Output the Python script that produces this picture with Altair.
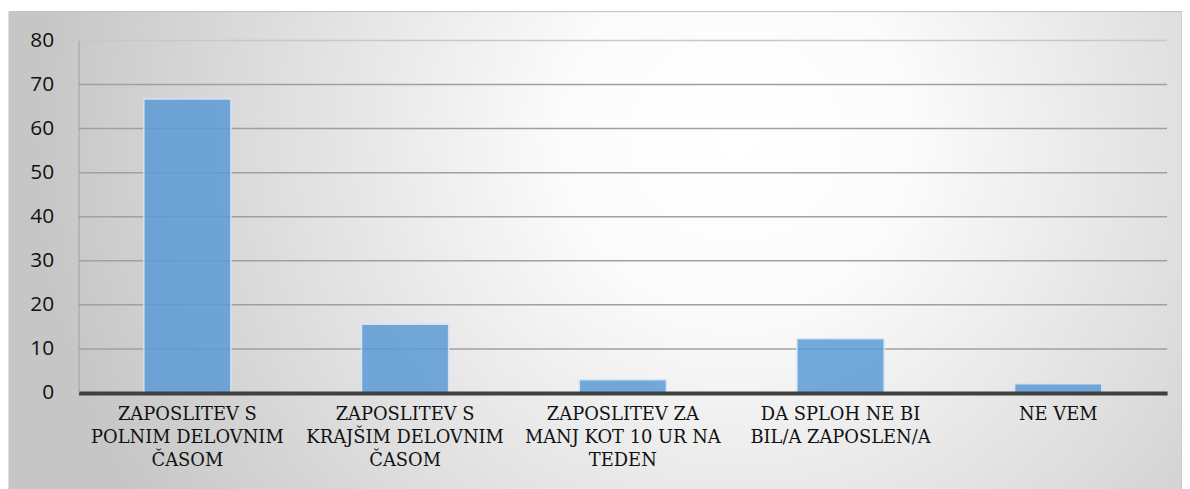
import altair as alt
import pandas as pd

categories = [
    "ZAPOSLITEV S\nPOLNIM DELOVNIM\nČASOM",
    "ZAPOSLITEV S\nKRAJŠIM DELOVNIM\nČASOM",
    "ZAPOSLITEV ZA\nMANJ KOT 10 UR NA\nTEDEN",
    "DA SPLOH NE BI\nBIL/A ZAPOSLEN/A",
    "NE VEM",
]
values = [66.7, 15.6, 3.0, 12.3, 2.1]
y_ticks = [0, 10, 20, 30, 40, 50, 60, 70, 80]
grid_values = [10, 20, 30, 40, 50, 60, 70]

W, H = 1096, 355
SERIF = "DejaVu Serif"
SANS = "Open Sans"

df = pd.DataFrame({"cat": categories, "val": values})
grid_df = pd.DataFrame({"val": grid_values})
top_df = pd.DataFrame({"val": [80]})

bg = alt.Chart(pd.DataFrame({"a": [0]})).mark_rect(
    fill=alt.RadialGradient(
        gradient="radial",
        x1=0.62, y1=0.40, r1=0,
        x2=0.62, y2=0.40, r2=0.60,
        stops=[
            alt.GradientStop(offset=0, color="#ffffff"),
            alt.GradientStop(offset=0.25, color="#fbfbfb"),
            alt.GradientStop(offset=1, color="#c6c6c6"),
        ],
    ),
    stroke="#c0c0c0",
    strokeWidth=1,
).encode(
    x=alt.value(-70), x2=alt.value(1111),
    y=alt.value(-29), y2=alt.value(460),
)

yscale = alt.Scale(domain=[0, 80], nice=False)
yaxis = alt.Axis(
    title=None,
    values=y_ticks,
    grid=False,
    ticks=False,
    labelFont=SANS,
    labelFontSize=21,
    labelColor="#111111",
    labelPadding=25,
    domainColor="#a0a0a0",
    domainWidth=1,
    zindex=1,
)

grid = alt.Chart(grid_df).mark_rule(color="#a0a0a0", strokeWidth=1.5).encode(
    y=alt.Y("val:Q", scale=yscale, axis=yaxis),
    x=alt.value(0), x2=alt.value(W),
)
top_grid = alt.Chart(top_df).mark_rule(color="#c8c8c8", strokeWidth=1.5).encode(
    y=alt.Y("val:Q", scale=yscale, axis=yaxis),
    x=alt.value(0), x2=alt.value(W),
)

bars = alt.Chart(df).mark_bar(
    color="#5b9bd5",
    fillOpacity=0.85,
    stroke="#d6e6f5",
    strokeWidth=1.5,
    strokeOpacity=0.9,
).encode(
    x=alt.X(
        "cat:N",
        scale=alt.Scale(domain=categories, paddingInner=0.6, paddingOuter=0.3),
        axis=alt.Axis(
            title=None,
            labelAngle=0,
            labelExpr="split(datum.label, '\\n')",
            labelFont=SERIF,
            labelFontSize=18,
            labelColor="#111111",
            labelLineHeight=23,
            labelPadding=13,
            labelBaseline="top",
            ticks=False,
            domainColor="#404040",
            domainWidth=4,
            zindex=1,
            labelLimit=300,
        ),
    ),
    y=alt.Y("val:Q", scale=yscale, axis=yaxis),
)

chart = alt.layer(bg, grid, top_grid, bars).properties(
    width=W, height=H,
    padding={"left": 71, "top": 31, "right": 15, "bottom": 95},
    autosize=alt.AutoSizeParams(type="none"),
    background="#ffffff",
).configure_view(stroke=None)

chart.save("out.html", embed_options={"renderer": "svg", "actions": False})
